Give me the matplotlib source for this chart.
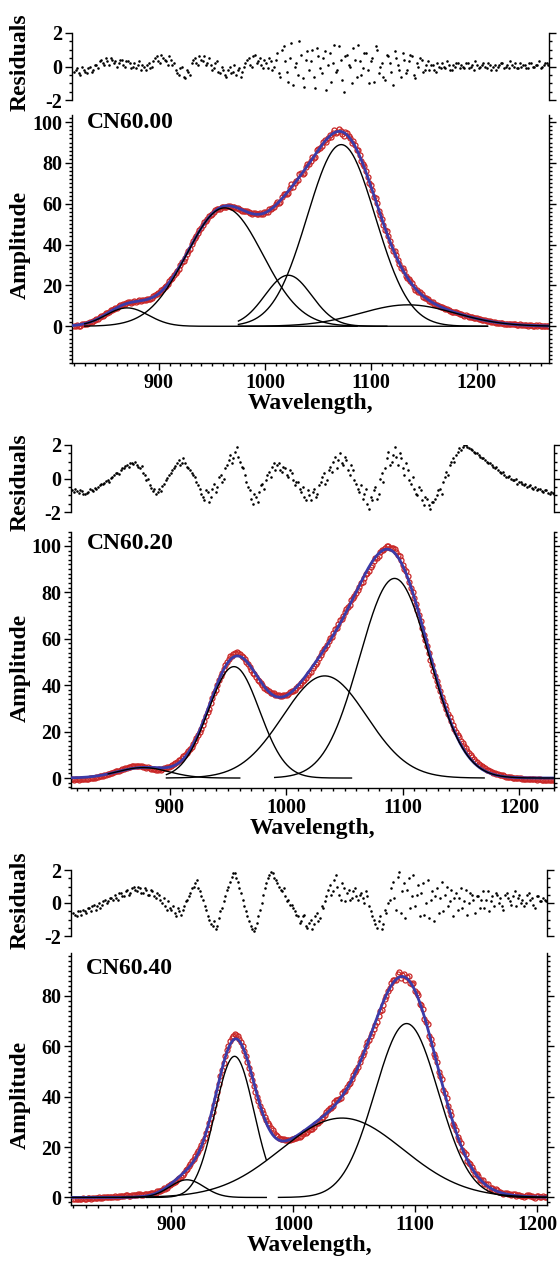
import numpy as np
import matplotlib.pyplot as plt
from matplotlib.ticker import MultipleLocator


# Output / style
OUT_FILE = "out.png"
DPI = 100
FONT = "Liberation Serif"
RED = "#c92626"
BLUE = "#3b3ba8"

# ---------------- CN60.00 ----------------
CN00_XLIM = (818, 1268)
CN00_YLIM = (-18, 103.5)
CN00_CENTERS = [870, 962, 1022, 1072, 1135]
CN00_HEIGHTS = [9, 58, 25, 89, 10.5]
CN00_SIGMAS = [20, 36, 22, 32, 45]
CN00_STARTS = [830, 830, 975, 975, 975]
CN00_ENDS = [1087, 1115, 1210, 1210, 1268]
CN00_RES_RANGE = (820, 1266)
CN00_RESID = [
    -0.3, -0.1, -0.5, -0.2, -0.4, 0.0, -0.2, 0.1,
    0.3, 0.2, 0.5, 0.1, 0.4, 0.3, 0.2,
    0.4, 0.0, 0.3, -0.1, 0.2, 0.1, -0.2, 0.0, 0.1, -0.1,
    0.3, 0.6, 0.2, 0.5, 0.3, 0.6, 0.1,
    -0.2, -0.5, 0.0, -0.7, -0.3,
    0.2, 0.5, 0.1, 0.4, 0.6, 0.2,
    0.1, -0.1, 0.3, -0.4, -0.2, -0.6, 0.0, -0.3, -0.5, -0.1, -0.3,
    0.2, 0.5, 0.0, 0.7, 0.3, 0.1, 0.4, -0.1, 0.3, 0.0,
    0.8, -0.6, 1.2, -0.3, 0.5, -1.1, 0.2, 1.5, -0.7, 0.4, -0.2, 1.0,
    -1.3, 0.6, -0.4, 0.9, 0.1, -0.9, 1.3, -0.2, 0.4, -1.5, 0.7, 0.0,
    1.1, -0.6, 0.3, -0.1, 0.8, -1.0, 0.5, 1.2, -0.4, 0.2, -0.8, 0.6,
    -0.3, 0.9, 0.1, -0.6, 0.4, -0.2, 0.7, -0.5, 0.2, 0.5, -0.3, 0.1,
    -0.2, 0.1, -0.3, 0.0, 0.2, -0.1, 0.1, -0.2, 0.0, 0.2, 0.1, -0.1,
    0.2, 0.0, -0.2, 0.1, 0.0, 0.2, -0.1, 0.1, 0.0, -0.2, 0.1, 0.2,
    0.0, -0.1, 0.1, 0.2, -0.1, 0.0, 0.1, -0.1, 0.2, 0.0, 0.1, -0.1,
    0.1, 0.2,
]
# zweite Messreihe (um halben Schritt versetzt)
CN00_RESID_B = [
    -0.2, -0.4, 0.0, -0.3, -0.1, -0.3, 0.1, -0.1,
    0.4, 0.1, 0.3, 0.5, 0.2, 0.0, 0.4,
    0.1, 0.3, 0.2, 0.0, -0.1, 0.3, 0.1, -0.2, 0.2, 0.0,
    0.5, 0.3, 0.7, 0.4, 0.1, 0.4, 0.2,
    -0.4, -0.1, -0.6, -0.2, -0.5,
    0.4, 0.2, 0.6, 0.3, 0.1, 0.5,
    -0.2, 0.2, -0.3, 0.0, -0.5, -0.2, -0.4, 0.1, -0.2, -0.6, 0.0,
    0.4, 0.1, 0.6, 0.2, 0.5, -0.1, 0.2, 0.5, -0.2, 0.4,
    -0.4, 1.0, 0.3, -0.9, 1.4, 0.0, -0.5, 0.7, -1.2, 0.9, 0.3, -0.6,
    1.1, -0.1, 0.5, -1.4, 0.8, 0.2, -0.3, 1.2, -0.8, 0.6, 0.1, -1.0,
    0.4, 1.3, -0.5, 0.8, -0.2, 0.3, -0.9, 1.0, 0.0, -0.6, 0.7, 0.2,
    -1.1, 0.5, -0.2, 0.8, -0.4, 0.3, 0.6, -0.7, 0.0, 0.4, -0.2, 0.3,
    0.1, -0.2, 0.2, -0.1, 0.0, 0.3, -0.2, 0.1, 0.2, -0.1, 0.0, 0.2,
    -0.1, 0.1, 0.3, -0.1, 0.1, 0.0, 0.2, -0.2, 0.1, 0.0, 0.2, -0.1,
    0.1, 0.3, 0.0, -0.1, 0.2, 0.1, -0.1, 0.2, 0.0, 0.1, 0.3, 0.0,
    0.2, 0.1,
]

# ---------------- CN60.20 ----------------
CN20_XLIM = (815, 1230)
CN20_YLIM = (-4.3, 106)
CN20_CENTERS = [877, 955, 1033, 1093]
CN20_HEIGHTS = [4.5, 48, 44, 86]
CN20_SIGMAS = [22, 22, 36, 30]
CN20_STARTS = [847, 897, 897, 990]
CN20_ENDS = [960, 1056, 1170, 1230]
CN20_RES_RANGE = (816, 1229)
CN20_RESID = [
    -0.7, -0.6, -0.85, -0.75, -0.95, -0.8, -0.7, -0.55, -0.5, -0.35,
    -0.25, -0.1, 0.05, 0.2, 0.35, 0.5, 0.65, 0.8, 0.95, 0.85,
    0.8, 0.6, 0.3, -0.1, -0.4, -0.75, -0.9, -0.6, -0.45, -0.1,
    0.2, 0.5, 0.75, 1.1, 0.9, 0.95, 0.6, 0.3, 0.1, -0.4,
    -0.9, -1.3, -0.8, -1.1, -0.3, -0.5, 0.2, 0.0, 0.8, 1.4,
    1.2, 1.9, 1.0, 0.6, -0.2, -0.7, -1.5, -1.1, -0.8, -0.3,
    -0.1, 0.4, 0.7, 0.5, 0.9, 0.4, 0.6, 0.1, 0.3, -0.4,
    -0.2, -0.8, -1.1, -0.7, -1.3, -0.6, -0.9, -0.2, 0.3, -0.1,
    0.7, 1.0, 0.6, 1.5, 0.8, 1.1, 0.2, 0.5, -0.3, -0.8,
    -1.2, -0.6, -1.8, -1.3, -0.5, -0.9, 0.3, 0.6, 1.6, 1.0,
    1.9, 0.8, 1.2, 0.2, 0.5, -0.3, -0.6, -1.0, -0.7, -1.6,
    -1.2, -1.8, -1.4, -1.0, -0.6, -0.2, 0.4, 0.8, 1.2, 1.4,
    1.8, 1.9, 2.0, 1.8, 1.7, 1.5, 1.4, 1.2, 1.1, 0.9,
    0.8, 0.6, 0.5, 0.3, 0.2, 0.1, 0.0, -0.1, -0.3, -0.2,
    -0.4, -0.5, -0.4, -0.6, -0.7, -0.6, -0.8, -0.7, -0.9, -0.85,
]
CN20_RESID_B = [
    -0.8, -0.75, -0.7, -0.9, -0.85, -0.65, -0.75, -0.6, -0.4, -0.3,
    -0.15, -0.2, 0.1, 0.3, 0.25, 0.6, 0.75, 0.7, 0.9, 1.0,
    0.7, 0.75, 0.2, 0.0, -0.55, -0.6, -0.8, -0.75, -0.3, 0.05,
    0.35, 0.6, 0.9, 0.8, 1.2, 0.7, 0.5, 0.2, -0.2, -0.6,
    -1.1, -0.7, -1.4, -0.6, -0.8, 0.1, -0.2, 0.6, 1.1, 0.9,
    1.6, 1.3, 0.7, 0.2, -0.5, -1.2, -0.9, -1.4, -0.4, -0.6,
    0.2, 0.1, 0.9, 0.8, 0.5, 0.7, 0.2, 0.5, -0.1, -0.2,
    -0.6, -0.5, -1.3, -1.0, -0.8, -1.1, -0.4, 0.1, -0.3, 0.5,
    0.4, 1.3, 1.1, 0.9, 1.3, 0.5, 0.8, -0.1, -0.6, -0.4,
    -0.9, -1.5, -1.1, -0.7, -1.2, 0.0, -0.2, 1.2, 0.8, 1.4,
    1.3, 1.5, 0.6, 0.9, -0.1, 0.1, -0.9, -0.5, -1.3, -1.1,
    -1.6, -1.4, -1.2, -0.7, -0.9, 0.1, 0.2, 1.0, 1.0, 1.6,
    1.7, 2.0, 1.9, 1.75, 1.6, 1.55, 1.3, 1.25, 1.0, 0.95,
    0.7, 0.7, 0.4, 0.4, 0.1, 0.15, -0.1, -0.05, -0.2, -0.35,
    -0.3, -0.45, -0.55, -0.5, -0.65, -0.75, -0.7, -0.85, -0.8, -0.95,
]

# ---------------- CN60.40 ----------------
CN40_XLIM = (818, 1208)
CN40_YLIM = (-3, 97)
CN40_CENTERS = [913, 952, 1040, 1093]
CN40_HEIGHTS = [7, 56, 31.5, 69]
CN40_SIGMAS = [14, 16, 50, 26]
CN40_STARTS = [860, 880, 818, 988]
CN40_ENDS = [978, 978, 1208, 1208]
CN40_RES_RANGE = (820, 1206)
CN40_RESID = [
    -0.6, -0.8, -0.5, -0.4, -0.6, -0.3, -0.2, -0.4, 0.0, -0.1,
    0.2, 0.1, 0.3, 0.5, 0.2, 0.6, 0.4, 0.8, 0.6, 1.0,
    0.7, 0.9, 0.6, 0.8, 0.5, 0.7, 0.3, 0.5, 0.0, -0.2,
    0.1, -0.4, -0.6, -0.3, -0.7, -0.2, 0.2, 0.6, 1.0, 1.4,
    0.7, 0.2, -0.4, -1.0, -1.4, -1.6, -0.9, -0.3, 0.4, 1.0,
    1.6, 1.8, 1.3, 0.6, -0.2, -0.8, -1.4, -1.7, -1.2, -0.4,
    0.5, 1.2, 1.7, 1.8, 1.4, 1.0, 0.7, 0.4, 0.2, -0.1,
    -0.5, -0.8, -1.1, -0.7, -1.5, -1.0, -1.3, -0.6, -0.9, -0.3,
    0.4, 1.1, 0.7, 1.7, 0.5, 1.2, 0.1, 0.8, 0.3, 0.9,
    0.2, 0.6, 0.0, 0.4, -0.5, -1.0, -1.5, -0.8, -1.3, -0.6,
    0.2, 1.3, -0.4, 1.9, 0.7, -0.9, 1.5, 0.4, -0.2, 1.1,
    0.6, -0.7, 1.4, 0.2, -1.1, 0.9, 0.3, -0.5, 1.0, 0.1,
    -0.8, 0.6, 0.3, -0.3, 0.8, 0.0, 0.5, -0.6, 0.4, 0.2,
    -0.3, 0.7, 0.1, -0.2, 0.5, 0.3, -0.4, 0.6, 0.1, 0.4,
    -0.2, 0.5, 0.2, 0.0, 0.6, 0.3, -0.3, 0.4, 0.1, 0.2,
]
CN40_RESID_B = [
    -0.7, -0.5, -0.7, -0.5, -0.3, -0.5, -0.1, -0.2, -0.3, 0.1,
    0.0, 0.3, 0.2, 0.3, 0.6, 0.4, 0.7, 0.5, 0.9, 0.8,
    1.0, 0.6, 0.9, 0.5, 0.8, 0.4, 0.6, 0.2, 0.3, -0.4,
    -0.3, -0.2, -0.8, -0.5, -0.4, 0.1, 0.4, 0.9, 1.2, 0.9,
    0.4, -0.2, -0.8, -1.3, -1.1, -1.4, -0.5, 0.1, 0.8, 1.3,
    1.8, 1.5, 0.9, 0.2, -0.5, -1.1, -1.6, -1.5, -0.8, 0.0,
    0.9, 1.5, 1.9, 1.5, 1.2, 0.8, 0.9, 0.1, -0.1, -0.3,
    -0.7, -1.2, -0.8, -1.4, -1.2, -1.6, -0.8, -1.1, -0.2, 0.1,
    0.8, 0.5, 1.4, 1.0, 0.2, 0.9, 0.6, 0.2, 0.7, 0.4,
    0.5, 0.3, 0.7, -0.2, -0.8, -1.3, -1.1, -1.6, -0.4, 0.0,
    0.9, 0.3, 1.6, -0.6, 1.2, 0.8, -0.3, 1.7, 0.5, -0.8,
    1.2, 0.0, -0.9, 0.7, 0.4, -0.6, 1.3, 0.5, -0.2, 0.8,
    0.3, -0.4, 0.9, 0.1, -0.7, 0.6, 0.2, 0.4, -0.3, 0.7,
    0.2, -0.5, 0.4, 0.6, 0.0, -0.2, 0.5, 0.3, -0.1, 0.7,
    0.3, 0.0, -0.2, 0.5, 0.2, -0.1, 0.4, 0.1, 0.3, 0.1,
]


def gauss(x, c, h, s):
    return h * np.exp(-((x - c) ** 2) / (2 * s ** 2))


def style_axis(ax, residual):
    for side in ["left", "right", "bottom", "top"]:
        ax.spines[side].set_linewidth(1.0)
    ax.spines["top"].set_visible(False)
    ax.tick_params(which="both", direction="out", width=1.0,
                   labelsize=14.5, pad=2, right=True, labelright=False)
    ax.tick_params(which="major", length=5)
    ax.tick_params(which="minor", length=2.5)
    if residual:
        ax.spines["bottom"].set_visible(False)
        ax.tick_params(axis="x", which="both", bottom=False, labelbottom=False)
    for lab in ax.get_xticklabels() + ax.get_yticklabels():
        lab.set_fontweight("bold")


def draw_panel(fig, rect_res, rect_amp, xlim, ylim, ytop, centers, heights,
               sigmas, starts, ends, res_range, resid, resid_b, name, label_y):
    ax_r = fig.add_axes(rect_res)
    ax_a = fig.add_axes(rect_amp)

    # Messpunkte: zwei Reihen, um einen halben Schritt versetzt
    xr = np.linspace(res_range[0], res_range[1], len(resid))
    half = (res_range[1] - res_range[0]) / (len(resid) - 1) / 2
    xb = np.linspace(res_range[0], res_range[1], len(resid_b)) + half
    xs = np.concatenate([xr, xb])
    rs = np.concatenate([resid, resid_b])

    # Residuen
    ax_r.plot(xs, rs, ".", color="black", ms=1.7)
    ax_r.set_xlim(xlim)
    ax_r.set_ylim(-2, 2)
    ax_r.set_yticks([-2, 0, 2])
    ax_r.yaxis.set_minor_locator(MultipleLocator(0.5))
    style_axis(ax_r, True)

    # Messdaten = Fit + Residuen
    fit_at_data = sum(gauss(xs, c, h, s) for c, h, s in zip(centers, heights, sigmas))
    ax_a.plot(xs, fit_at_data + rs, "o", mfc="none", mec=RED,
              ms=3.6, mew=0.9, zorder=2)

    # Fit
    xf = np.linspace(xlim[0], xlim[1], 800)
    fit = sum(gauss(xf, c, h, s) for c, h, s in zip(centers, heights, sigmas))
    ax_a.plot(xf, fit, color=BLUE, lw=2.0, zorder=3)

    # Komponenten
    for c, h, s, a, b in zip(centers, heights, sigmas, starts, ends):
        xc = np.linspace(a, b, 300)
        ax_a.plot(xc, gauss(xc, c, h, s), color="black", lw=1.0, zorder=4)

    ax_a.set_xlim(xlim)
    ax_a.set_ylim(ylim)
    ax_a.set_yticks(np.arange(0, ytop + 1, 20))
    ax_a.yaxis.set_minor_locator(MultipleLocator(2))
    ax_a.set_xticks([900, 1000, 1100, 1200])
    ax_a.xaxis.set_minor_locator(MultipleLocator(10))
    ax_a.set_xlabel("Wavelength,", fontsize=17, fontweight="bold", labelpad=0)
    style_axis(ax_a, False)

    ax_a.text(0.032, label_y, name, transform=ax_a.transAxes, fontsize=17,
              fontweight="bold", ha="left", va="center")
    return ax_r, ax_a


def main():
    plt.rcParams["font.family"] = FONT
    plt.rcParams["axes.unicode_minus"] = False

    W, H = 560, 1261
    fig = plt.figure(figsize=(W / DPI, H / DPI), dpi=DPI)

    def rect(x0, x1, y0, y1):
        # Pixelkoordinaten -> Figure-Koordinaten
        return [x0 / W, 1 - y1 / H, (x1 - x0) / W, (y1 - y0) / H]

    draw_panel(fig, rect(72, 549, 33, 100), rect(72, 549, 115, 363),
               CN00_XLIM, CN00_YLIM, 100, CN00_CENTERS, CN00_HEIGHTS,
               CN00_SIGMAS, CN00_STARTS, CN00_ENDS, CN00_RES_RANGE,
               CN00_RESID, CN00_RESID_B, "CN60.00", 0.968)
    draw_panel(fig, rect(71, 554, 445, 512), rect(71, 554, 532, 788),
               CN20_XLIM, CN20_YLIM, 100, CN20_CENTERS, CN20_HEIGHTS,
               CN20_SIGMAS, CN20_STARTS, CN20_ENDS, CN20_RES_RANGE,
               CN20_RESID, CN20_RESID_B, "CN60.20", 0.957)
    draw_panel(fig, rect(71, 547, 870, 936), rect(71, 547, 953, 1205),
               CN40_XLIM, CN40_YLIM, 80, CN40_CENTERS, CN40_HEIGHTS,
               CN40_SIGMAS, CN40_STARTS, CN40_ENDS, CN40_RES_RANGE,
               CN40_RESID, CN40_RESID_B, "CN60.40", 0.94)

    # y-Achsen-Beschriftungen
    for yc in [62, 482, 900]:
        fig.text(20 / W, 1 - yc / H, "Residuals", rotation=90, fontsize=17,
                 fontweight="bold", ha="center", va="center")
    for yc in [245, 668, 1095]:
        fig.text(20 / W, 1 - yc / H, "Amplitude", rotation=90, fontsize=17,
                 fontweight="bold", ha="center", va="center")

    fig.savefig(OUT_FILE, dpi=DPI)
    plt.close(fig)


if __name__ == "__main__":
    main()
